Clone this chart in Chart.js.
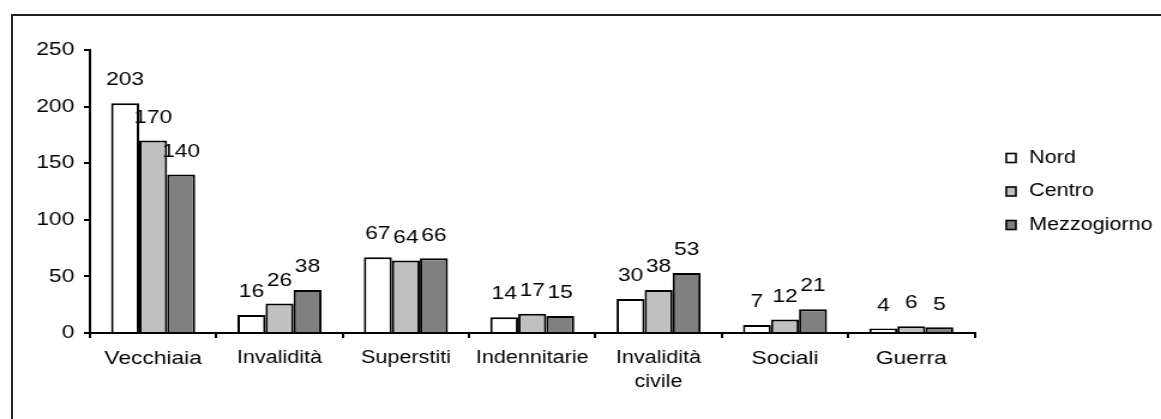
<!DOCTYPE html>
<html>
<head>
<meta charset="utf-8">
<script src="https://cdn.jsdelivr.net/npm/chart.js@4"></script>
<style>
  body { margin: 0; background: #fff; overflow: hidden; width: 1161px; height: 419px; position: relative; }
  #frame { position: absolute; left: 11px; top: 14px; width: 1300px; height: 600px; border-left: 2px solid #222; border-top: 2px solid #222; }
  #wrap { position: absolute; left: 0; top: 0; width: 968px; height: 419px; transform-origin: 0 0; transform: scaleX(1.1994); }
</style>
</head>
<body>
<div id="frame"></div>
<div id="wrap"><canvas id="myChart"></canvas></div>
<script>
// categories and values
const categories = ['Vecchiaia', 'Invalidità', 'Superstiti', 'Indennitarie', ['Invalidità', 'civile'], 'Sociali', 'Guerra'];
const seriesNames = ['Nord', 'Centro', 'Mezzogiorno'];
const nord = [203, 16, 67, 14, 30, 7, 4];
const centro = [170, 26, 64, 17, 38, 12, 6];
const mezzogiorno = [140, 38, 66, 15, 53, 21, 5];
const yMin = 0, yMax = 250, yStep = 50;

// these labels are set a bit larger in the original
const bigLabels = [0, 5, 6];

const colors = ['#ffffff', '#c0c0c0', '#808080'];
const font = '"Liberation Sans", Arial, sans-serif';

// value labels above every bar
const barLabels = {
  id: 'barLabels',
  afterDatasetsDraw(chart) {
    const ctx = chart.ctx;
    ctx.save();
    ctx.fillStyle = '#000';
    ctx.font = '19px ' + font;
    ctx.textAlign = 'center';
    ctx.textBaseline = 'middle';
    chart.data.datasets.forEach((ds, i) => {
      chart.getDatasetMeta(i).data.forEach((bar, j) => {
        ctx.fillText(ds.data[j], bar.x, bar.y - 23);
      });
    });
    ctx.restore();
  }
};

// small legend on the right side
const sideLegend = {
  id: 'sideLegend',
  afterDraw(chart) {
    const ctx = chart.ctx;
    const rows = [158, 191.5, 225];
    ctx.save();
    ctx.font = '18px ' + font;
    ctx.textBaseline = 'middle';
    chart.data.datasets.forEach((ds, i) => {
      const y = rows[i];
      ctx.fillStyle = ds.backgroundColor;
      ctx.fillRect(839, y - 4.5, 8, 9);
      ctx.strokeStyle = '#000';
      ctx.lineWidth = 1.6;
      ctx.strokeRect(839, y - 4.5, 8, 9);
      ctx.fillStyle = '#000';
      ctx.fillText(ds.label, 858, y);
    });
    ctx.restore();
  }
};

const ctx = document.getElementById('myChart').getContext('2d');
const myChart = new Chart(ctx, {
  type: 'bar',
  data: {
    labels: categories,
    datasets: [
      { label: seriesNames[0], data: nord, backgroundColor: colors[0] },
      { label: seriesNames[1], data: centro, backgroundColor: colors[1] },
      { label: seriesNames[2], data: mezzogiorno, backgroundColor: colors[2] }
    ].map(d => Object.assign(d, {
      borderColor: '#000',
      borderWidth: 2,
      borderSkipped: 'bottom',
      categoryPercentage: 0.665,
      barPercentage: 1.0
    }))
  },
  options: {
    responsive: true,
    maintainAspectRatio: false,
    animation: false,
    devicePixelRatio: 1,
    layout: { padding: { left: 0, right: 155.5, top: 50, bottom: 0 } },
    scales: {
      x: {
        grid: { drawOnChartArea: false, tickLength: 5, color: '#000', lineWidth: 2 },
        border: { color: '#000', width: 2 },
        ticks: {
          color: '#000',
          font: c => bigLabels.includes(c.index)
            ? { family: font, size: 19, lineHeight: 1.2 }
            : { family: font, size: 18, lineHeight: 1.28 },
          padding: 9,
          maxRotation: 0,
          autoSkip: false
        },
        afterFit(scale) { scale.height = 86; }
      },
      y: {
        min: yMin,
        max: yMax,
        grid: { drawOnChartArea: false, tickLength: 5, color: '#000', lineWidth: 2 },
        border: { color: '#000', width: 2 },
        ticks: {
          stepSize: yStep,
          color: '#000',
          font: { family: font, size: 19 },
          padding: 8
        },
        afterFit(scale) { scale.width = 75; }
      }
    },
    plugins: {
      legend: { display: false },
      tooltip: { enabled: false }
    }
  },
  plugins: [barLabels, sideLegend]
});
</script>
</body>
</html>
